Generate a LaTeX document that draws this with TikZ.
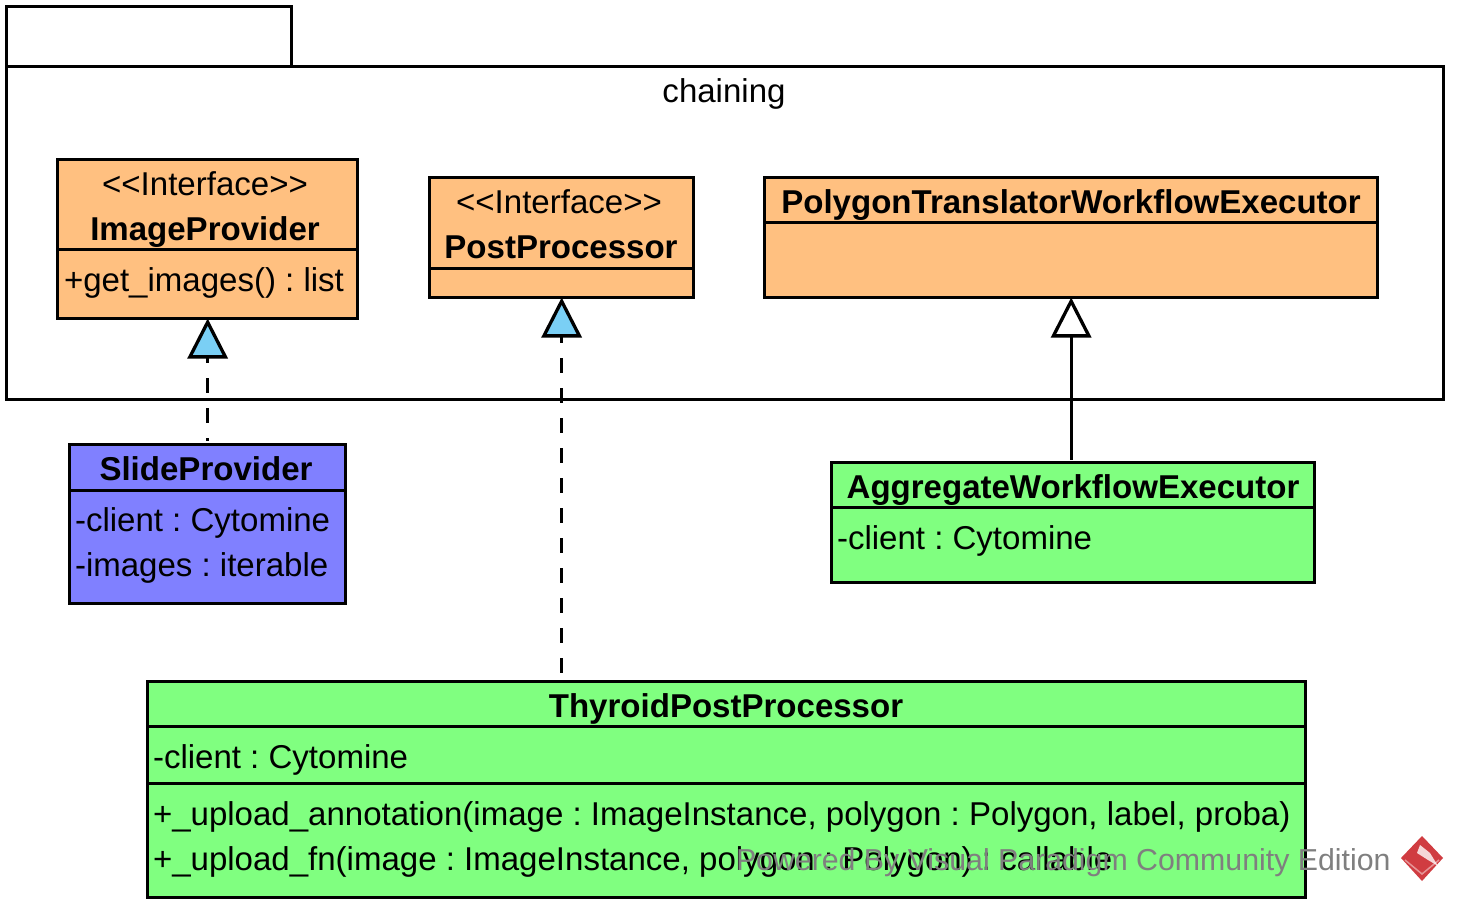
\documentclass[tikz,border=0pt]{standalone}
\usepackage{fontspec}
\setmainfont{Liberation Sans}
\usetikzlibrary{arrows.meta,positioning}
\definecolor{ifaceorange}{HTML}{FFC080}
\definecolor{slideblue}{HTML}{8080FF}
\definecolor{execgreen}{HTML}{80FF80}
\definecolor{tipblue}{HTML}{7ACFF5}
\definecolor{vplogo}{HTML}{CE3237}
\definecolor{vpgrey}{HTML}{7F7F7F}
\tikzset{
    part/.style = {draw, line width=3.3pt, anchor=north west, inner sep=0pt, outer sep=0pt, xshift=-0.2pt, yshift=0.2pt},
    orangepart/.style = {part, fill=ifaceorange},
    bluepart/.style = {part, fill=slideblue},
    greenpart/.style = {part, fill=execgreen},
    label/.style = {anchor=base, inner sep=0pt, outer sep=0pt, font=\fontsize{33.03}{33}\selectfont},
    stereo/.style = {label},
    classname/.style = {label, font=\fontsize{33.03}{33}\selectfont\bfseries},
    member/.style = {label, anchor=base west},
    realize/.style = {line width=3.3pt, dash pattern=on 15pt off 15pt, dash phase=#1,
        -{Triangle[open, fill=tipblue, length=40pt, width=40pt, line width=3.3pt]}},
    generalize/.style = {line width=3.3pt,
        -{Triangle[open, fill=white, length=40pt, width=40pt, line width=3.3pt]}},
}
\begin{document}
\frenchspacing
\begin{tikzpicture}[x=1pt, y=-1pt]
    \useasboundingbox (0,0) rectangle (1458,909);
    % package
    \node[part, minimum width=284.7pt, minimum height=60pt] (tab) at (7,7) {};
    \node[part, minimum width=1436.7pt, minimum height=332.7pt] (chaining) at (7,67) {};
    \node[label] (chainingname) at (724,103) {chaining};
    % ImageProvider
    \node[orangepart, minimum width=299.7pt, minimum height=89.7pt] (imagehead) at (58,160) {};
    \node[orangepart, minimum width=299.7pt, minimum height=69pt] (imagebody) at (58,249.7) {};
    \node[stereo] (imagestereo) at (205,196) {<{}<Interface>{}>};
    \node[classname] (imagename) at (205,241) {ImageProvider};
    \node[member] (imageget) at (64,291) {+get\_images() : list};
    % PostProcessor
    \node[orangepart, minimum width=263.7pt, minimum height=90.7pt] (posthead) at (430,178) {};
    \node[orangepart, minimum width=263.7pt, minimum height=29pt] (postbody) at (430,268.7) {};
    \node[stereo] (poststereo) at (559,213.5) {<{}<Interface>{}>};
    \node[classname] (postname) at (561,258.5) {PostProcessor};
    % PolygonTranslatorWorkflowExecutor
    \node[orangepart, minimum width=612.7pt, minimum height=44.7pt] (polyhead) at (765,178) {};
    \node[orangepart, minimum width=612.7pt, minimum height=75pt] (polybody) at (765,222.7) {};
    \node[classname] (polyname) at (1071,213.5) {PolygonTranslatorWorkflowExecutor};
    % SlideProvider
    \node[bluepart, minimum width=275.7pt, minimum height=45.7pt] (slidehead) at (70,445) {};
    \node[bluepart, minimum width=275.7pt, minimum height=113pt] (slidebody) at (70,490.7) {};
    \node[classname] (slidename) at (206,480) {SlideProvider};
    \node[member] (slideclient) at (75,531) {-client : Cytomine};
    \node[member] (slideimages) at (75,576) {-images : iterable};
    % AggregateWorkflowExecutor
    \node[greenpart, minimum width=482.7pt, minimum height=44.7pt] (aggrhead) at (832,463) {};
    \node[greenpart, minimum width=482.7pt, minimum height=75pt] (aggrbody) at (832,507.7) {};
    \node[classname] (aggrname) at (1073,498) {AggregateWorkflowExecutor};
    \node[member] (aggrclient) at (837,549) {-client : Cytomine};
    % ThyroidPostProcessor
    \node[greenpart, minimum width=1157.7pt, minimum height=44.7pt] (thyrhead) at (148,682) {};
    \node[greenpart, minimum width=1157.7pt, minimum height=57pt] (thyrattr) at (148,726.7) {};
    \node[greenpart, minimum width=1157.7pt, minimum height=114pt] (thyrops) at (148,783.7) {};
    \node[classname] (thyrname) at (726,717) {ThyroidPostProcessor};
    \node[member] (thyrclient) at (153,768) {-client : Cytomine};
    \node[member] (thyrupload) at (153,825) {+\_upload\_annotation(image : ImageInstance, polygon : Polygon, label, proba)};
    \node[member] (thyrfn) at (153,870) {+\_upload\_fn(image : ImageInstance, polygon : Polygon) : callable};
    % connectors
    \draw[realize=12pt, shorten <=4pt] (imagebody.south |- slidehead.north) -- (imagebody.south);
    \draw[realize=0pt, shorten <=9pt] (postbody.south |- thyrhead.north) -- (postbody.south);
    \draw[generalize, shorten <=3pt] (polybody.south |- aggrhead.north) -- (polybody.south);
    % watermark
    \node[member, text=vpgrey, font=\fontsize{30.3}{30.3}\selectfont] (powered) at (736,870) {Powered By Visual Paradigm Community Edition};
    \fill[vplogo, opacity=0.95] (1422,836) -- (1443,858) -- (1422,881) -- (1401,858) -- cycle;
    \fill[white, opacity=0.8] (1420,845) -- (1430,853) -- (1438,866) -- (1428,860) -- (1417,853) -- cycle;
    \draw[white, opacity=0.45, line width=1.5pt] (1405,860) -- (1422,874) -- (1439,860);
\end{tikzpicture}
\end{document}
